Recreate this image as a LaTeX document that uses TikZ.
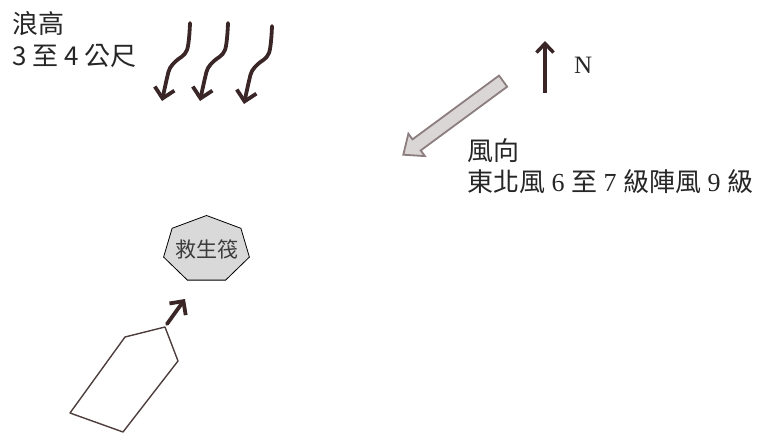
\documentclass[tikz,border=0pt]{standalone}
\usepackage{fontspec}
\setmainfont{Liberation Serif}
\newfontfamily\cjk{Noto Sans CJK TC}
\usetikzlibrary{arrows.meta, shapes.arrows, calc, positioning}

\definecolor{ink}{HTML}{3A2626}
\definecolor{hullline}{HTML}{4E3E3E}
\definecolor{windfill}{HTML}{DAD6D6}
\definecolor{windline}{HTML}{8C7E7E}
\definecolor{raftfill}{HTML}{D9D9D9}
\definecolor{rafttext}{HTML}{3C3C3C}

\begin{document}
\begin{tikzpicture}[x=1pt, y=-1pt,
    wave/.style={ink, line width=3.8pt, line cap=round, line join=round,
        -{Straight Barb[length=10pt, width=20pt]}},
    compass/.style={ink, line width=3.5pt, -{Straight Barb[length=9pt, width=17pt]}},
    windarrow/.style={single arrow, draw=windline, fill=windfill, line width=1.8pt,
        inner xsep=0pt, inner ysep=6pt, minimum height=124pt,
        single arrow head extend=7pt, single arrow tip angle=80},
    hull/.style={draw=hullline, line width=1.4pt, line join=round},
    raft/.style={draw=black, fill=raftfill, line width=0.8pt},
    txt/.style={inner sep=0pt, text=black!85, font=\fontsize{26}{30}\selectfont}]

    \useasboundingbox (0,0) rectangle (764,439);

    %% Waves
    \node[txt, anchor=base west] (wavelabel) at (12,34) {\cjk 浪高};
    \node[txt, anchor=base west] (waveval) at (12,65) {\cjk 3 至 4 公尺};
    \foreach \dx/\dy in {0/0, 38/0, 82/3}
    \draw[wave, shift={(\dx,\dy)}] plot[smooth, tension=0.6]
        coordinates {(190,23) (187,50) (176,61) (170,68) (167,78) (162,101)};

    %% Wind and north
    \coordinate (nbase) at (545,93);
    \coordinate (ntip) at (545,41);
    \draw[compass] (nbase) -- (ntip);
    \node[txt, anchor=base west, font=\fontsize{25}{28}\selectfont] (north) at (574,73) {N};
    \node[windarrow, rotate=216.4] (wind) at ($(506,79)!0.5!(407,152)$) {};
    \node[txt, anchor=base west] (windlabel) at (467,160) {\cjk 風向};
    \node[txt, anchor=base west] (windval) at (467,191)
        {{\cjk 東北風} 6 {\cjk 至} 7 {\cjk 級陣風} 9 {\cjk 級}};

    %% Raft and boat
    \draw[raft] plot[samples at={0,...,6}, variable=\k]
        ({206.5+44*sin(\k*360/7)}, {249.5-34*cos(\k*360/7)}) -- cycle;
    \node[txt, text=rafttext, font=\fontsize{21}{24}\selectfont] (raftname) at (206.5,249) {\cjk 救生筏};
    \draw[hull] (125,337) -- (165,327) -- (178,361) -- (123,432) -- (70,413) -- cycle;
    \coordinate (bow) at (167,324);
    \coordinate (heading) at (185,299);
    \draw[wave] (bow) -- (heading);

\end{tikzpicture}
\end{document}
